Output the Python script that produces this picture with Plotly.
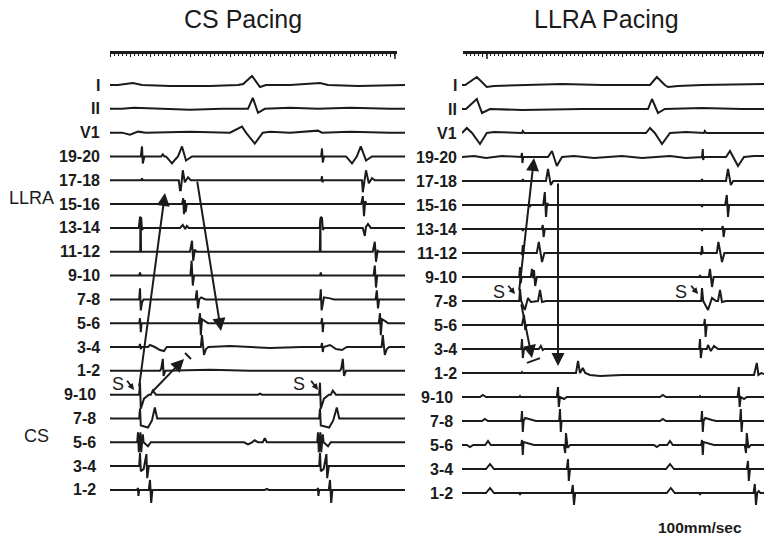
import plotly.graph_objects as go

# ---------------- text ----------------
PANEL_TITLES = ["CS Pacing", "LLRA Pacing"]
CHANNEL_LABELS = ["I", "II", "V1",
                  "19-20", "17-18", "15-16", "13-14", "11-12", "9-10", "7-8", "5-6", "3-4", "1-2",
                  "9-10", "7-8", "5-6", "3-4", "1-2"]
GROUP_LABELS = ["LLRA", "CS"]
SPEED_LABEL = "100mm/sec"
STIM_LABEL = "S"

# recording windows (ms)
LEFT_SPAN_MS = 737.5
RIGHT_SPAN_MS = 755.0

# ---------------- CS pacing (left) : (time ms, deflection units) ----------------
csp_I = [(20, 0), (57, 2), (80, 0), (150, -1), (250, -1), (320, 0), (333, 1), (355, 9), (375, -2), (390, 0),
         (450, 0), (525, 2), (545, 0), (620, -1), (700, 0)]
csp_II = [(30, 0), (60, 1), (120, 0), (200, -1), (280, 0), (345, 0), (357, 11), (370, -4), (387, 0),
          (450, 1), (520, 0), (600, 1), (700, 0)]
csp_V1 = [(30, 0), (50, -2), (70, 1), (90, 0), (200, 1), (300, 0), (330, 6), (340, 0), (362, -11), (382, 0),
          (400, 1), (450, 0), (520, 2), (530, 0), (600, 1), (700, 0)]
csp_llra_19_20 = [(77, 0), (80, 10), (82, -7), (86, 0), (128, 0), (132, 2), (136, 0), (140, 0), (155, -7),
                  (163, -3), (170, 0), (180, 10), (190, -4), (205, 0),
                  (528, 0), (530, 8), (532, -6), (535, 0), (590, 0), (605, -7), (612, -3), (617, 0),
                  (627, 10), (640, -4), (655, 0)]
csp_llra_17_18 = [(78, 0), (80, 2), (82, 0), (172, 0), (175, -10), (177, -10), (182, 10), (187, -2), (195, 3),
                  (202, 0), (528, 0), (530, 4), (531, -2), (533, 0), (630, 0), (632, -12), (640, 10),
                  (647, -3), (655, 2), (662, 0)]
csp_llra_15_16 = [(180, 0), (183, 6), (185, -10), (187, 4), (189, -8), (192, 0),
                  (628, 0), (632, 8), (635, -12), (638, 3), (641, 0)]
csp_llra_13_14 = [(72, 0), (75, 11), (78, 10), (80, -2), (84, 0), (175, 0), (182, 3), (188, -1), (192, 2),
                  (197, 0), (524, 0), (527, 11), (530, 10), (532, -2), (536, 0), (632, 0), (637, -8),
                  (640, 1), (645, 4), (652, 0)]
csp_llra_11_12 = [(75.5, 0), (76, 33), (77, 33), (77.5, 0), (200, 0), (205, 11), (208, -9), (212, 2),
                  (216, 0), (524.5, 0), (525, 33), (526, 33), (526.5, 0), (657, 0), (662, 10), (665, -10),
                  (669, 1), (673, 0)]
csp_llra_9_10 = [(73, 0), (75, 3), (77, 0), (201, 0), (204, 15), (207, -10), (210, 0),
                 (525, 0), (527, 3), (529, 0), (659, 0), (662, 10), (665, -12), (668, 0)]
csp_llra_7_8 = [(73, 0), (75, 11), (77, -11), (80, -3), (84, 0), (214, 0), (217, 9), (220, -9), (223, 0),
                (228, 2), (238, 0), (525, 0), (527, 10), (529, -11), (532, -3), (535, 2), (550, 1),
                (560, 0), (664, 0), (667, 9), (670, -9), (673, 0)]
csp_llra_5_6 = [(73, 0), (75, 5), (77, -9), (79, 0), (222, 0), (225, 10), (227, -12), (230, 4), (238, 2),
                (245, 0), (528, 0), (530, 5), (532, -9), (534, 0), (672, 0), (675, 10), (677, -12),
                (680, 4), (688, 2), (695, 0)]
csp_llra_3_4 = [(73, 0), (75, 3), (77, -2), (79, 0), (95, 0), (100, 2), (112, 0), (125, -3), (135, -4),
                (142, 0), (227, 0), (230, 12), (235, -8), (240, -2), (246, 0), (300, 1), (400, -1),
                (480, 0), (528, 0), (530, 4), (532, -5), (534, 0), (550, 2), (565, -2), (580, -3),
                (592, 0), (679, 0), (682, 12), (687, -8), (692, -2), (698, 0)]
csp_llra_1_2 = [(125, 0), (128, 2), (132, 12), (134, -5), (138, 0), (250, 1), (350, 0),
                (575, 0), (578, 2), (582, 12), (585, -5), (590, 0)]
csp_cs_9_10 = [(73, 0), (75, 12), (77, -14), (85, -4), (97, 0), (102, 0), (107, 4), (115, 0), (370, 0),
               (375, 1), (380, 0), (523, 0), (525, 12), (527, -14), (535, -4), (547, 0), (552, 0),
               (557, 4), (565, 0)]
csp_cs_7_8 = [(73, 0), (75, 10), (77, -7), (95, -9), (105, -2), (112, 11), (118, 0),
              (523, 0), (525, 10), (527, -7), (548, -9), (558, -2), (567, 11), (573, 0)]
csp_cs_5_6 = [(68, 0), (70, 10), (72, -10), (76, 10), (78, -10), (82, 8), (84, 0), (95, -4), (102, 0),
              (335, 0), (345, -2), (355, 0), (362, 2), (370, 0), (382, 0), (387, 4), (392, 0),
              (518, 0), (520, 10), (522, -10), (526, 10), (528, -10), (532, 8), (534, 0), (545, -4),
              (552, 0)]
csp_cs_3_4 = [(73, 0), (75, 13), (77, -5), (84, -3), (91, 12), (93, -12), (97, 0),
              (523, 0), (525, 13), (527, -5), (534, -3), (541, 12), (543, -12), (547, 0)]
csp_cs_1_2 = [(68, 0), (70, 2), (71, -6), (73, 0), (97, 0), (100, 10), (103, -13), (106, 0), (387, 0),
              (392, 1), (397, 0), (518, 0), (520, 2), (521, -6), (523, 0), (547, 0), (550, 10),
              (553, -13), (556, 0)]

# ---------------- LLRA pacing (right) ----------------
llp_I = [(0, 0), (8, 0), (37, 8), (55, 0), (62, -2), (80, -1), (150, 0), (250, 1), (350, 0), (470, 0),
         (487, 8), (507, 0), (515, -2), (540, -1), (600, 0), (700, 1)]
llp_II = [(0, 0), (10, 0), (37, 10), (50, -4), (70, 0), (150, -1), (300, 0), (465, 0), (475, 10), (490, -4),
          (507, 0), (600, 1), (700, 0)]
llp_V1 = [(0, 0), (5, 2), (12, 5), (25, 0), (45, -11), (62, 0), (80, 1), (150, 0), (152, 2), (156, 0),
          (300, 0), (460, 0), (470, 5), (482, 0), (500, -11), (520, 0), (560, 1), (605, 0), (607, 2),
          (611, 0)]
llp_llra_19_20 = [(30, 1), (60, -1), (100, 1), (148, 0), (150, 4), (151, -6), (153, 0), (215, 0), (225, 6),
                  (237, -9), (250, 0), (280, 1), (330, -1), (400, 1), (450, -1), (520, 1), (560, -1),
                  (600, 0), (602, 8), (603, -3), (605, 0), (660, 0), (670, 6), (690, -9), (705, 0),
                  (730, 1)]
llp_llra_17_18 = [(150, 0), (152, 2), (154, 0), (210, 0), (215, 12), (222, -4), (228, 0),
                  (598, 0), (600, 2), (602, 0), (660, 0), (665, 12), (672, -4), (678, 0)]
llp_llra_15_16 = [(168, 0), (170, -2), (172, 0), (203, 0), (207, 13), (210, -12), (213, 2), (216, 0),
                  (598, 0), (600, -2), (602, 0), (658, 0), (662, 10), (665, -12), (668, 0)]
llp_llra_13_14 = [(150, 0), (152, -2), (154, 0), (199, 0), (202, 4), (204, -8), (207, 0),
                  (598, 0), (600, -2), (602, 0), (649, 0), (652, 3), (654, -8), (657, 0)]
llp_llra_11_12 = [(149, 0), (150, -2), (152, 8), (154, 0), (187, 0), (192, 11), (200, -9), (206, 0),
                  (597, 0), (598, -2), (600, 7), (602, 0), (637, 0), (641, 11), (650, -9), (656, 0)]
llp_llra_9_10 = [(143, 0), (145, 10), (147, -6), (149, 0), (172, 0), (175, 8), (178, -1), (180, 7),
                 (183, -9), (187, 0), (593, 0), (595, 2), (597, 0), (617, 0), (620, 8), (625, -10),
                 (629, 0)]
llp_llra_7_8 = [(143, 0), (145, 12), (148, 0), (157, -9), (165, 3), (172, -1), (190, 0), (195, 11),
                (200, -1), (210, 0), (598, 0), (600, 13), (603, 0), (615, -9), (625, 3), (635, 0),
                (640, 0), (645, 11), (650, -1), (660, 0)]
llp_llra_5_6 = [(150, 0), (155, 10), (158, -5), (162, 0), (605, 0), (607, 6), (609, -12), (612, 0)]
llp_llra_3_4 = [(148, 0), (150, 10), (152, -9), (155, 0), (192, 0), (197, 3), (202, -1), (206, 0),
                (593, 0), (595, 10), (597, -9), (600, 0), (612, 0), (615, 4), (622, -2), (630, 3),
                (640, 0)]
llp_llra_1_2 = [(148, 0), (150, 1), (152, 0), (285, 0), (290, 12), (295, 0), (302, 5), (308, 0),
                (320, -2), (345, -3), (400, -2), (600, -2), (730, -2), (737, 10), (741, -2), (748, 0),
                (755, -1)]
llp_cs_9_10 = [(45, 0), (52, 2), (60, 0), (143, 0), (145, 1), (147, 0), (237, 0), (240, 10), (242, -10),
               (245, 0), (255, -2), (262, 0), (495, 0), (502, 2), (510, 0), (593, 0), (595, 1), (597, 0),
               (689, 0), (692, 10), (694, -10), (697, 0), (705, -2), (712, 0)]
llp_cs_7_8 = [(50, 0), (57, 2), (65, 0), (148, 0), (150, 10), (152, -11), (154, 0), (158, 3), (175, 1),
              (185, 0), (243, 0), (245, 12), (247, -11), (249, 0), (495, 0), (502, 2), (510, 0),
              (598, 0), (600, 10), (602, -11), (604, 0), (608, 3), (625, 1), (635, 0), (695, 0),
              (697, 12), (699, -11), (701, 0)]
llp_cs_5_6 = [(12, 0), (20, -2), (28, 0), (58, 0), (65, 4), (72, 0), (148, 0), (150, 5), (152, -10),
              (154, 3), (165, 2), (180, 0), (255, 0), (258, -8), (260, 12), (264, -3), (270, 0),
              (480, 0), (487, -2), (494, 0), (513, 0), (520, 4), (527, 0), (598, 0), (600, 5),
              (602, -10), (604, 3), (615, 2), (630, 0), (707, 0), (710, -8), (712, 12), (716, -3),
              (722, 0)]
llp_cs_3_4 = [(60, 0), (70, 5), (80, 0), (262, 0), (265, 10), (267, -12), (270, 0),
              (510, 0), (520, 5), (530, 0), (712, 0), (715, 8), (717, -12), (720, 0)]
llp_cs_1_2 = [(60, 0), (70, 5), (80, 0), (143, 0), (145, -2), (147, 0), (274, 0), (277, 8), (280, -12),
              (283, 0), (512, 0), (522, 5), (532, 0), (593, 0), (595, -2), (597, 0), (729, 0), (732, 9),
              (735, -12), (738, 0), (742, 2), (746, 0)]

# activation arrows: (t_tail, channel_tail, t_head, channel_head)
csp_arrows = [(72.5, 12.72, 137.5, 4.53), (217.5, 3.99, 277.5, 10.33), (102.5, 12.93, 185.0, 11.50)]
csp_dash = [(187.5, 11.25, 202.5, 11.50)]
csp_stim = [(20.0, 12.55, 40.0, 12.35, 60.0, 12.80), (472.5, 12.55, 500.0, 12.35, 520.0, 12.80)]
llp_arrows = [(142.5, 8.62, 180.0, 3.04), (147.5, 9.08, 175.0, 11.38), (240.0, 4.04, 240.0, 11.71)]
llp_dash = [(162.5, 11.58, 195.0, 11.38)]
llp_stim = [(92.5, 8.62, 112.5, 8.30, 132.5, 8.71), (547.5, 8.62, 570.0, 8.30, 590.0, 8.71)]

# time-scale bar major marks (ms)
csp_scale_marks = [712.5]
llp_scale_marks = [62.5]

# ---------------- figure ----------------
W, H = 764, 537
INK = "#1b1b1b"
FONT = "Liberation Sans, Arial, Helvetica, sans-serif"

left_channels = [csp_I, csp_II, csp_V1, csp_llra_19_20, csp_llra_17_18, csp_llra_15_16, csp_llra_13_14,
                 csp_llra_11_12, csp_llra_9_10, csp_llra_7_8, csp_llra_5_6, csp_llra_3_4, csp_llra_1_2,
                 csp_cs_9_10, csp_cs_7_8, csp_cs_5_6, csp_cs_3_4, csp_cs_1_2]
right_channels = [llp_I, llp_II, llp_V1, llp_llra_19_20, llp_llra_17_18, llp_llra_15_16, llp_llra_13_14,
                  llp_llra_11_12, llp_llra_9_10, llp_llra_7_8, llp_llra_5_6, llp_llra_3_4, llp_llra_1_2,
                  llp_cs_9_10, llp_cs_7_8, llp_cs_5_6, llp_cs_3_4, llp_cs_1_2]

panels = [
    dict(ch=left_channels, span=LEFT_SPAN_MS, xa="x", ya="y", row_px=23.82, arrows=csp_arrows,
         dash=csp_dash, stim=csp_stim, lab_ecg=102, lab_cs=98),
    dict(ch=right_channels, span=RIGHT_SPAN_MS, xa="x2", ya="y2", row_px=24.0, arrows=llp_arrows,
         dash=llp_dash, stim=llp_stim, lab_ecg=459, lab_cs=455),
]
TOP_ROW_PX = 85

fig = go.Figure()
annotations = []
shapes = []

for p in panels:
    rp = p["row_px"]
    for i, verts in enumerate(p["ch"]):
        pts = sorted(verts)
        xs = [0.0] + [t for t, _ in pts] + [p["span"]]
        amps = [pts[0][1] if pts[0][0] == 0 else 0] + [a for _, a in pts] + [pts[-1][1]]
        ys = [-i + a / rp for a in amps]
        fig.add_trace(go.Scatter(x=xs, y=ys, mode="lines", xaxis=p["xa"], yaxis=p["ya"],
                                 line=dict(color=INK, width=2.0), hoverinfo="skip", showlegend=False,
                                 cliponaxis=False))
        xpx = p["lab_cs"] if i >= 13 else p["lab_ecg"]
        annotations.append(dict(text=CHANNEL_LABELS[i], x=xpx / W, xref="paper", y=-i, yref=p["ya"],
                                xanchor="right", yanchor="middle", showarrow=False,
                                font=dict(family=FONT, size=16, color=INK, weight="bold")))
    for (t0, r0, t1, r1) in p["arrows"]:
        annotations.append(dict(x=t1, y=-r1, ax=t0, ay=-r0, xref=p["xa"], yref=p["ya"],
                                axref=p["xa"], ayref=p["ya"], text="", showarrow=True,
                                arrowhead=2, arrowsize=1.3, arrowwidth=2, arrowcolor=INK, standoff=0))
    for (t0, r0, t1, r1) in p["dash"]:
        shapes.append(dict(type="line", x0=t0, y0=-r0, x1=t1, y1=-r1, xref=p["xa"], yref=p["ya"],
                           line=dict(color=INK, width=2)))
    for (ts, rs, t0, r0, t1, r1) in p["stim"]:
        annotations.append(dict(text=STIM_LABEL, x=ts, y=-rs, xref=p["xa"], yref=p["ya"], showarrow=False,
                                xanchor="center", yanchor="middle",
                                font=dict(family=FONT, size=18, color=INK)))
        annotations.append(dict(x=t1, y=-r1, ax=t0, ay=-r0, xref=p["xa"], yref=p["ya"],
                                axref=p["xa"], ayref=p["ya"], text="", showarrow=True,
                                arrowhead=2, arrowsize=0.7, arrowwidth=1.8, arrowcolor=INK, standoff=0))

# titles and group labels
for txt, xc in ((PANEL_TITLES[0], 243), (PANEL_TITLES[1], 606)):
    annotations.append(dict(text=txt, x=xc / W, y=1 - 19 / H, xref="paper", yref="paper",
                            xanchor="center", yanchor="middle", showarrow=False,
                            font=dict(family=FONT, size=25, color=INK)))
annotations.append(dict(text=GROUP_LABELS[0], x=31 / W, y=-4.75, xref="paper", yref="y",
                        xanchor="center", yanchor="middle", showarrow=False,
                        font=dict(family=FONT, size=18, color=INK)))
annotations.append(dict(text=GROUP_LABELS[1], x=36 / W, y=-14.75, xref="paper", yref="y",
                        xanchor="center", yanchor="middle", showarrow=False,
                        font=dict(family=FONT, size=18, color=INK)))
annotations.append(dict(text=SPEED_LABEL, x=700 / W, y=1 - 527 / H, xref="paper", yref="paper",
                        xanchor="center", yanchor="middle", showarrow=False,
                        font=dict(family=FONT, size=15.5, color=INK, weight="bold")))

# scale-bar axes (dummy traces so the axes render)
fig.add_trace(go.Scatter(x=[0], y=[100], xaxis="x3", yaxis="y", mode="markers",
                         marker=dict(opacity=0), hoverinfo="skip", showlegend=False))
fig.add_trace(go.Scatter(x=[0], y=[100], xaxis="x4", yaxis="y", mode="markers",
                         marker=dict(opacity=0), hoverinfo="skip", showlegend=False))

BAR_POS = 1 - 52 / H
for xa, marks in (("x3", csp_scale_marks), ("x4", llp_scale_marks)):
    for m in marks:
        shapes.append(dict(type="line", x0=m, x1=m, y0=BAR_POS, y1=1 - 59 / H, xref=xa, yref="paper",
                           line=dict(color=INK, width=1.5)))

hidden = dict(visible=False, showgrid=False, zeroline=False)
scale_axis = dict(anchor="free", position=BAR_POS, showline=True, linewidth=3, linecolor=INK,
                  ticks="outside", tickmode="linear", tick0=0, dtick=50, ticklen=3, tickwidth=1,
                  tickcolor=INK, showticklabels=False, showgrid=False, zeroline=False,
                  minor=dict(dtick=10, ticklen=2, tickwidth=1, tickcolor=INK, ticks="outside"))

fig.update_layout(
    width=W, height=H, margin=dict(l=0, r=0, t=0, b=0),
    paper_bgcolor="white", plot_bgcolor="rgba(0,0,0,0)", showlegend=False,
    xaxis=dict(domain=[110 / W, 405 / W], range=[0, LEFT_SPAN_MS], anchor="y", **hidden),
    yaxis=dict(domain=[0, 1], range=[-(H - TOP_ROW_PX) / 23.82, TOP_ROW_PX / 23.82], anchor="x", **hidden),
    xaxis2=dict(domain=[462 / W, 1.0], range=[0, RIGHT_SPAN_MS], anchor="y2", **hidden),
    yaxis2=dict(domain=[0, 1], range=[-(H - TOP_ROW_PX) / 24.0, TOP_ROW_PX / 24.0], anchor="x2", **hidden),
    xaxis3=dict(domain=[110 / W, 397 / W], range=[0, (397 - 110) * 2.5], **scale_axis),
    xaxis4=dict(domain=[463 / W, 1.0], range=[2.5, RIGHT_SPAN_MS], **scale_axis),
    annotations=annotations, shapes=shapes,
)

fig.write_html("out.html", config={"displayModeBar": False},
               post_script="document.body.style.margin='0px';")
